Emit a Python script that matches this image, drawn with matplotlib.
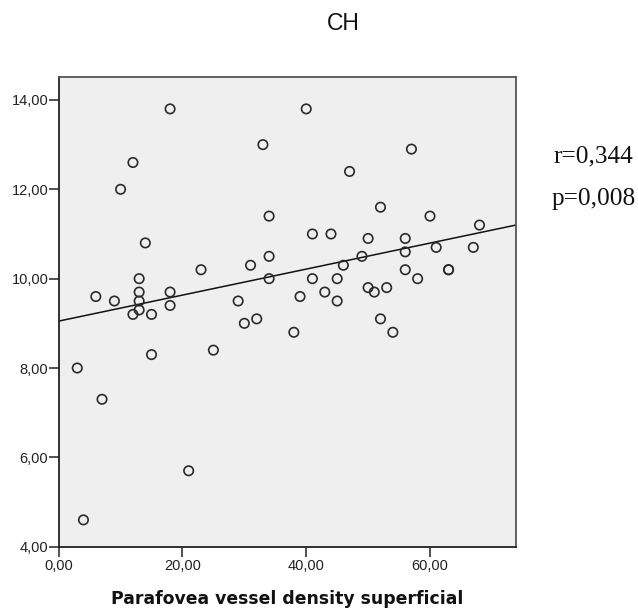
import matplotlib
matplotlib.use("Agg")
import matplotlib.pyplot as plt
import numpy as np

# Data
vessel_density = [3, 4, 6, 7, 9, 10, 12, 12, 13, 13, 13, 13, 14, 15, 15, 18, 18, 18,
                  21, 23, 25, 29, 30, 31, 32, 33, 34, 34, 34, 38, 39, 40, 41, 41, 43,
                  44, 45, 45, 46, 47, 49, 50, 50, 51, 52, 52, 53, 54, 56, 56, 56, 57,
                  58, 60, 61, 63, 63, 67, 68]
ch_values = [8.0, 4.6, 9.6, 7.3, 9.5, 12.0, 12.6, 9.2, 10.0, 9.7, 9.5, 9.3, 10.8, 9.2, 8.3,
             13.8, 9.7, 9.4, 5.7, 10.2, 8.4, 9.5, 9.0, 10.3, 9.1, 13.0, 11.4, 10.5, 10.0,
             8.8, 9.6, 13.8, 11.0, 10.0, 9.7, 11.0, 10.0, 9.5, 10.3, 12.4, 10.5, 10.9, 9.8,
             9.7, 11.6, 9.1, 9.8, 8.8, 10.9, 10.6, 10.2, 12.9, 10.0, 11.4, 10.7, 10.2, 10.2,
             10.7, 11.2]
fit_intercept = 9.05
fit_slope = 0.0291
x_ticks = [0, 20, 40, 60]
x_tick_labels = ["0,00", "20,00", "40,00", "60,00"]
y_ticks = [4, 6, 8, 10, 12, 14]
y_tick_labels = ["4,00", "6,00", "8,00", "10,00", "12,00", "14,00"]
title_text = "CH"
x_label = "Parafovea vessel density superficial"
r_text = "r=0,344"
p_text = "p=0,008"

plt.rcParams['font.family'] = ['Liberation Sans', 'DejaVu Sans']

fig = plt.figure(figsize=(6.38, 6.08), dpi=100)
ax = fig.add_axes([0.0920, 0.1008, 0.7168, 0.7730])
ax.set_facecolor('#efefef')

xmin, xmax = 0, 73.9
ax.set_xlim(xmin, xmax)
ax.set_ylim(4, 14.52)

ax.scatter(vessel_density, ch_values, s=46, facecolors='none', edgecolors='#2a2a2a',
           linewidths=1.2, zorder=3)
lx = np.array([xmin, xmax])
ax.plot(lx, fit_intercept + fit_slope * lx, color='#111111', lw=1.1, zorder=2)

ax.set_xticks(x_ticks)
ax.set_xticklabels(x_tick_labels)
ax.set_yticks(y_ticks)
ax.set_yticklabels(y_tick_labels)
ax.tick_params(axis='both', direction='out', length=7, width=1.1, color='#222222',
               labelsize=10.5, labelcolor='#222222')
ax.tick_params(axis='y', pad=0.5)
ax.tick_params(axis='x', pad=2)

for side in ['left', 'bottom']:
    ax.spines[side].set_color('#222222')
    ax.spines[side].set_linewidth(1.3)
for side in ['top', 'right']:
    ax.spines[side].set_color('#555555')
    ax.spines[side].set_linewidth(1.3)

fig.text(343 / 638, 1 - 23 / 608, title_text, ha='center', va='center', fontsize=16.5,
         color='#111111')
fig.text(287 / 638, 1 - 604 / 608, x_label, ha='center', va='baseline', fontsize=12.4,
         fontweight='bold', family=['DejaVu Sans'], color='#111111')
fig.text(553 / 638, 1 - 162 / 608, r_text, ha='left', va='baseline', fontsize=18.2,
         family=['Liberation Serif', 'DejaVu Serif'], color='#111111')
fig.text(552 / 638, 1 - 205 / 608, p_text, ha='left', va='baseline', fontsize=18.2,
         family=['Liberation Serif', 'DejaVu Serif'], color='#111111')

fig.savefig('out.png', dpi=100, facecolor='white')
